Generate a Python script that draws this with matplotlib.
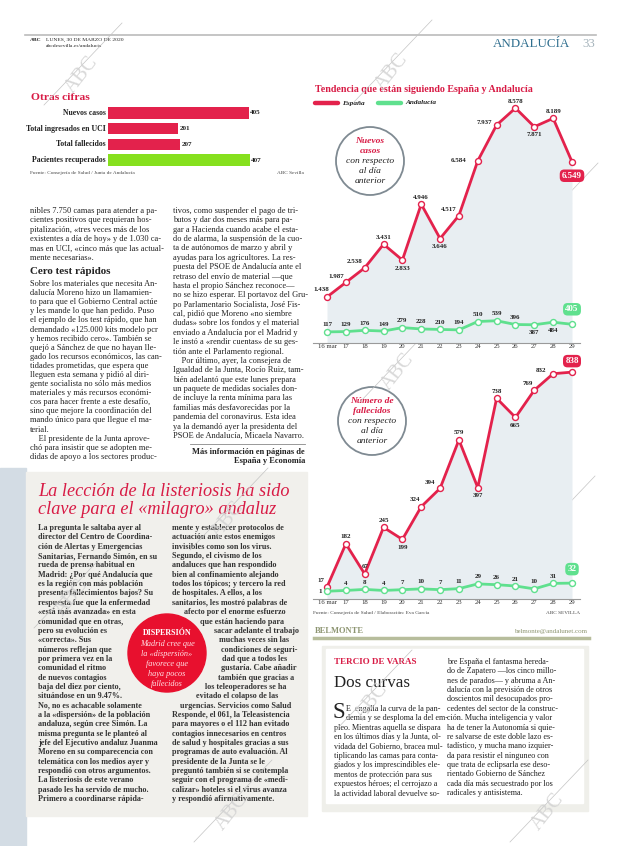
import matplotlib
matplotlib.use("Agg")
import matplotlib.pyplot as plt
from matplotlib.patches import Rectangle, Circle

# ---------------- DATA ----------------
bar_labels = ["Nuevos casos", "Total ingresados en UCI", "Total fallecidos", "Pacientes recuperados"]
bar_values = [405, 201, 207, 407]

days = ["16 mar", "17", "18", "19", "20", "21", "22", "23", "24", "25", "26", "27", "28", "29"]
cases_spain = [1438, 1987, 2538, 3431, 2833, 4946, 3646, 4517, 6584, 7937, 8578, 7871, 8189, 6549]
cases_andalucia = [117, 129, 176, 149, 279, 228, 210, 194, 510, 539, 396, 387, 484, 405]
deaths_spain = [17, 182, 67, 245, 199, 324, 394, 579, 397, 738, 665, 769, 832, 838]
deaths_andalucia = [1, 4, 8, 4, 7, 10, 7, 11, 29, 26, 21, 10, 31, 32]

def fmt(v):
    return f"{v:,}".replace(",", ".")

# ---------------- STYLE ----------------
W, H = 620, 846
RED = "#e3224c"
GREEN = "#5fe08e"
LIME = "#86e01e"
CRIMSON = "#d81b45"
SERIF = "Liberation Serif"
plt.rcParams["font.family"] = [SERIF, "DejaVu Serif"]

fig = plt.figure(figsize=(W / 100, H / 100), dpi=100)
bg = fig.add_axes([0, 0, 1, 1])
bg.set_xlim(0, W)
bg.set_ylim(H, 0)
bg.axis("off")

def pt(px):
    return px * 0.72

def T(x, y, s, px=8.5, **kw):
    kw.setdefault("va", "center")
    kw.setdefault("color", "#222222")
    return bg.text(x, y, s, fontsize=pt(px), **kw)

def axes_px(x0, y0, x1, y1, **kw):
    return fig.add_axes([x0 / W, 1 - y1 / H, (x1 - x0) / W, (y1 - y0) / H], **kw)

# ---------------- backgrounds ----------------
bg.add_patch(Rectangle((0, 468), 26, 378, color="#d3dce4", zorder=0))
bg.add_patch(Rectangle((26, 472), 281, 344, color="#f1f0ec", zorder=0))
bg.add_patch(Rectangle((322, 646), 266, 165, color="#efefea", zorder=0))
bg.add_patch(Rectangle((326, 649), 257, 154, color="white", zorder=0))

# ---------------- header ----------------
bg.plot([25, 596], [35, 35], color="#bbbbbb", lw=1.2)
T(30, 40, "ABC", 5.5, weight="bold")
T(46, 40, "LUNES, 30 DE MARZO DE 2020", 5.5)
T(46, 46, "abcdesevilla.es/andalucia", 5.5)
T(570, 44, "ANDALUCÍA", 13, color="#2f6e8e", ha="right")
T(595, 44, "33", 13, color="#a5b3bb", ha="right")

# ---------------- Otras cifras ----------------
T(31, 97, "Otras cifras", 11.5, color=CRIMSON, weight="bold")
axb = axes_px(108, 105, 306, 168)
ypos = list(range(len(bar_values)))
cols = [RED, RED, RED, LIME]
axb.barh(ypos, bar_values, height=0.72, color=cols)
axb.set_ylim(len(bar_values) - 0.5, -0.5)
axb.set_xlim(0, 569)
axb.axis("off")
for i, (lab, v) in enumerate(zip(bar_labels, bar_values)):
    axb.text(-6, i, lab, ha="right", va="center", fontsize=pt(7.8), weight="bold", color="#222")
    axb.text(v + 4, i, str(v), ha="left", va="center", fontsize=pt(7.2), weight="bold", color="#222")
T(30, 173, "Fuente: Consejería de Salud / Junta de Andalucía", 5.2, color="#444")
T(304, 173, "ABC Sevilla", 5.2, color="#444", ha="right")

# ---------------- top article text ----------------
col1_top = [
    "nibles 7.750 camas para atender a pa-",
    "cientes positivos que requieran hos-",
    "pitalización, «tres veces más de los",
    "existentes a día de hoy» y de 1.030 ca-",
    "mas en UCI, «cinco más que las actual-",
    "mente necesarias».",
]
for i, s in enumerate(col1_top):
    T(30, 211 + i * 9.4, s, 8.4)
T(30, 272, "Cero test rápidos", 11, weight="bold")
col1_b = [
    "Sobre los materiales que necesita An-",
    "dalucía Moreno hizo un llamamien-",
    "to para que el Gobierno Central actúe",
    "y les mande lo que han pedido. Puso",
    "el ejemplo de los test rápido, que han",
    "demandado «125.000 kits modelo pcr",
    "y hemos recibido cero». También se",
    "quejó a Sánchez de que no hayan lle-",
    "gado los recursos económicos, las can-",
    "tidades prometidas, que espera que",
    "lleguen esta semana y pidió al diri-",
    "gente socialista no sólo más medios",
    "materiales y más recursos económi-",
    "cos para hacer frente a este desafío,",
    "sino que mejore la coordinación del",
    "mando único para que llegue el ma-",
    "terial.",
    "    El presidente de la Junta aprove-",
    "chó para insistir que se adopten me-",
    "didas de apoyo a los sectores produc-",
]
for i, s in enumerate(col1_b):
    T(30, 284 + i * 9.1, s, 8.4)
col2_top = [
    "tivos, como suspender el pago de tri-",
    "butos y dar dos meses más para pa-",
    "gar a Hacienda cuando acabe el esta-",
    "do de alarma, la suspensión de la cuo-",
    "ta de autónomos de marzo y abril y",
    "ayudas para los agricultores. La res-",
    "puesta del PSOE de Andalucía ante el",
    "retraso del envío de material —que",
    "hasta el propio Sánchez reconoce—",
    "no se hizo esperar. El portavoz del Gru-",
    "po Parlamentario Socialista, José Fis-",
    "cal, pidió que Moreno «no siembre",
    "dudas» sobre los fondos y el material",
    "enviado a Andalucía por el Madrid y",
    "le instó a «rendir cuentas» de su ges-",
    "tión ante el Parlamento regional.",
    "    Por último, ayer, la consejera de",
    "Igualdad de la Junta, Rocío Ruiz, tam-",
    "bién adelantó que este lunes prepara",
    "un paquete de medidas sociales don-",
    "de incluye la renta mínima para las",
    "familias más desfavorecidas por la",
    "pandemia del coronavirus. Esta idea",
    "ya la demandó ayer la presidenta del",
    "PSOE de Andalucía, Micaela Navarro.",
]
for i, s in enumerate(col2_top):
    T(173, 211 + i * 9.37, s, 8.4)
bg.plot([190, 305], [444, 444], color="#888", lw=0.6)
T(305, 452, "Más información en páginas de", 8.4, weight="bold", ha="right")
T(305, 461, "España y Economía", 8.4, weight="bold", ha="right")

# ---------------- listeriosis box ----------------
T(38, 492, "La lección de la listeriosis ha sido", 18.3, color=CRIMSON, style="italic")
T(38, 510, "clave para el «milagro» andaluz", 18.3, color=CRIMSON, style="italic")
lc1 = [
    "La pregunta le saltaba ayer al",
    "director del Centro de Coordina-",
    "ción de Alertas y Emergencias",
    "Sanitarias, Fernando Simón, en su",
    "rueda de prensa habitual en",
    "Madrid: ¿Por qué Andalucía que",
    "es la región con más población",
    "presenta fallecimientos bajos? Su",
    "respuesta fue que la enfermedad",
    "«está más avanzada» en esta",
    "comunidad que en otras,",
    "pero su evolución es",
    "«correcta». Sus",
    "números reflejan que",
    "por primera vez en la",
    "comunidad el ritmo",
    "de nuevos contagios",
    "baja del diez por ciento,",
    "situándose en un 9.47%.",
    "No, no es achacable solamente",
    "a la «dispersión» de la población",
    "andaluza, según cree Simón. La",
    "misma pregunta se le planteó al",
    "jefe del Ejecutivo andaluz Juanma",
    "Moreno en su comparecencia con",
    "telemática con los medios ayer y",
    "respondió con otros argumentos.",
    "La listeriosis de este verano",
    "pasado les ha servido de mucho.",
    "Primero a coordinarse rápida-",
]
for i, s in enumerate(lc1):
    T(38, 528 + i * 9.35, s, 8.2, weight="bold", color="#333")
lc2 = [
    (172, "mente y establecer protocolos de"),
    (172, "actuación ante estos enemigos"),
    (172, "invisibles como son los virus."),
    (172, "Segundo, el civismo de los"),
    (172, "andaluces que han respondido"),
    (172, "bien al confinamiento alejando"),
    (172, "todos los tópicos; y tercero la red"),
    (172, "de hospitales. A ellos, a los"),
    (172, "sanitarios, les mostró palabras de"),
    (184, "afecto por el enorme esfuerzo"),
    (200, "que están haciendo para"),
    (214, "sacar adelante el trabajo"),
    (219, "muchas veces sin las"),
    (221, "condiciones de seguri-"),
    (222, "dad que a todos les"),
    (221, "gustaría. Cabe añadir"),
    (218, "también que gracias a"),
    (205, "los teleoperadores se ha"),
    (196, "evitado el colapso de las"),
    (180, "urgencias. Servicios como Salud"),
    (172, "Responde, el 061, la Teleasistencia"),
    (172, "para mayores o el 112 han evitado"),
    (172, "contagios innecesarios en centros"),
    (172, "de salud y hospitales gracias a sus"),
    (172, "programas de auto evaluación. Al"),
    (172, "presidente de la Junta se le"),
    (172, "preguntó también si se contempla"),
    (172, "seguir con el programa de «medi-"),
    (172, "calizar» hoteles si el virus avanza"),
    (172, "y respondió afirmativamente."),
]
for i, (x, s) in enumerate(lc2):
    T(x, 528 + i * 9.35, s, 8.2, weight="bold", color="#333")
bg.add_patch(Circle((167, 653), 39, color="#e8102e", zorder=3))
T(167, 633, "DISPERSIÓN", 8, color="white", weight="bold", ha="center", zorder=4)
for i, s in enumerate(["Madrid cree que", "la «dispersión»", "favorece que", "haya pocos", "fallecidos"]):
    T(167, 644 + i * 10, s, 8.3, color="#ffdfe4", style="italic", ha="center", zorder=4)

# ---------------- charts ----------------
T(315, 90, "Tendencia que están siguiendo España y Andalucía", 10, color=CRIMSON, weight="bold")
bg.plot([315, 338], [103, 103], color=RED, lw=3.2, solid_capstyle="round")
T(342, 103, "España", 7.3, style="italic", weight="bold")
bg.plot([378, 401], [103, 103], color=GREEN, lw=3.2, solid_capstyle="round")
T(405, 103, "Andalucía", 7.3, style="italic", weight="bold")

OFF = {"a": (0, -7), "b": (0, 8), "ul": (-6, -7), "l": (-10, -6), "L": (-19, 0),
       "lf": (-7, 0), "ll": (-12, -3)}

def draw_panel(ax, spain, anda, sp_pos, an_pos, sp_box, an_box, xpx0, xpx1, axis_px, zero_px, per_px, top_px):
    x = list(range(len(days)))
    step = (len(days) - 1) / (572 - 327)
    ax.set_xlim(-(327 - xpx0) * step, len(days) - 1 + (xpx1 - 572) * step)
    ax.set_ylim(-(axis_px - zero_px) * per_px, (zero_px - top_px) * per_px)
    ybot = ax.get_ylim()[0]
    ax.fill_between(x, spain, ybot, color="#e8eef2", zorder=1, lw=0)
    for ser, c in [(spain, RED), (anda, GREEN)]:
        ax.plot(x, ser, color=c, lw=2.0, marker="o", ms=4.3, mfc="white", mew=1.0, zorder=3, clip_on=False)
    for ser, poss in [(spain, sp_pos), (anda, an_pos)]:
        for xi, v, p in zip(x, ser, poss):
            if p == "box":
                continue
            dx, dy = OFF[p]
            ax.annotate(fmt(v), (xi, v), xytext=(pt(dx), -pt(dy)), textcoords="offset points",
                        ha="center", va="center", fontsize=pt(7), weight="bold", color="#222", zorder=4)
    for ser, off, c in [(spain, sp_box, RED), (anda, an_box, GREEN)]:
        ax.annotate(fmt(ser[-1]), (x[-1], ser[-1]), xytext=(0, -pt(off)), textcoords="offset points",
                    ha="center", va="center", fontsize=pt(9), weight="bold", color="white", zorder=5,
                    bbox=dict(boxstyle="round,pad=0.25,rounding_size=0.5", fc=c, ec="none"))
    for s in ["top", "right", "left"]:
        ax.spines[s].set_visible(False)
    ax.spines["bottom"].set_color("#9a9a9a")
    ax.spines["bottom"].set_linewidth(0.8)
    ax.set_yticks([])
    ax.set_xticks(x)
    ax.set_xticklabels(days, fontsize=pt(6.8))
    ax.tick_params(axis="x", length=0, pad=pt(1.5), colors="#333")
    ax.patch.set_alpha(0)

ax1 = axes_px(313, 96, 580, 343)
draw_panel(ax1, cases_spain, cases_andalucia,
           ["ul", "l", "l", "a", "b", "a", "b", "l", "L", "ll", "a", "b", "a", "box"],
           ["a", "a", "a", "a", "a", "a", "a", "a", "a", "a", "a", "b", "b", "box"],
           14, -15, 313, 580, 343, 335, 37.8, 96)

ax2 = axes_px(313, 352, 580, 599)
draw_panel(ax2, deaths_spain, deaths_andalucia,
           ["ul", "a", "a", "a", "b", "ul", "l", "a", "b", "a", "b", "ul", "ll", "box"],
           ["lf", "a", "a", "a", "a", "a", "a", "a", "a", "a", "a", "a", "a", "box"],
           -11, -14, 313, 580, 599, 591.5, 3.82, 352)

# circles annotations
for cx, cy, l1, l2 in [(370, 161, "Nuevos", "casos"), (372, 421, "Número de", "fallecidos")]:
    bg.add_patch(Circle((cx, cy), 34, fc="white", ec="#7f8a92", lw=1.3, zorder=6))
    T(cx, cy - 20, l1, 9.5, color=CRIMSON, weight="bold", style="italic", ha="center", zorder=7)
    T(cx, cy - 10, l2, 9.5, color=CRIMSON, weight="bold", style="italic", ha="center", zorder=7)
    for j, s in enumerate(["con respecto", "al día", "anterior"]):
        T(cx, cy + j * 10, s, 9.5, color="#222", style="italic", ha="center", zorder=7)

T(313, 613, "Fuente: Consejería de Salud / Elaboración: Eva García", 5.2, color="#444")
T(580, 613, "ABC SEVILLA", 5.2, color="#444", ha="right")

# ---------------- Belmonte ----------------
T(315, 631, "BELMONTE", 8.5, color="#8c9470", weight="bold")
T(588, 631, "belmonte@andalunet.com", 7, color="#8c9470", ha="right")
bg.plot([314, 589], [638, 638], color="#b7bd9c", lw=2.5)

# ---------------- Tercio de varas ----------------
T(334, 662, "TERCIO DE VARAS", 9, color=CRIMSON, weight="bold")
T(334, 683, "Dos curvas", 17, color="#222")
T(332, 713, "S", 23, color="#222")
tv1 = [
    (346, "E  engalla la curva de la pan-"),
    (346, "demia y se desploma la del em-"),
    (334, "pleo. Mientras aquella se dispara"),
    (334, "en los últimos días y la Junta, ol-"),
    (334, "vidada del Gobierno, bracea mul-"),
    (334, "tiplicando las camas para conta-"),
    (334, "giados y los imprescindibles ele-"),
    (334, "mentos de protección para sus"),
    (334, "expuestos héroes; el cerrojazo a"),
    (334, "la actividad laboral devuelve so-"),
]
for i, (x, s) in enumerate(tv1):
    T(x, 709 + i * 9.4, s, 8.2)
tv2 = [
    "bre España el fantasma hereda-",
    "do de Zapatero —los cinco millo-",
    "nes de parados— y abruma a An-",
    "dalucía con la previsión de otros",
    "doscientos mil desocupados pro-",
    "cedentes del sector de la construc-",
    "ción. Mucha inteligencia y valor",
    "ha de tener la Autonomía si quie-",
    "re salvarse de este doble lazo es-",
    "tadístico, y mucha mano izquier-",
    "da para resistir el ninguneo con",
    "que trata de eclipsarla ese deso-",
    "rientado Gobierno de Sánchez",
    "cada día más secuestrado por los",
    "radicales y antisistema.",
]
for i, s in enumerate(tv2):
    T(447, 662 + i * 9.36, s, 8.2)

# ---------------- ABC watermarks ----------------
for (wx, wy) in [(82, 75), (392, 72), (558, 215), (398, 372), (555, 528),
                 (228, 520), (72, 598), (372, 702), (548, 812), (232, 812)]:
    bg.plot([wx - 38, wx + 40], [wy + 30, wy - 52], color="#c4c4c4", lw=0.5, zorder=8)
    T(wx, wy, "ABC", 20, color="#d2d2d2", rotation=52, ha="center", zorder=8, alpha=0.85)

fig.savefig("out.png", dpi=100)
